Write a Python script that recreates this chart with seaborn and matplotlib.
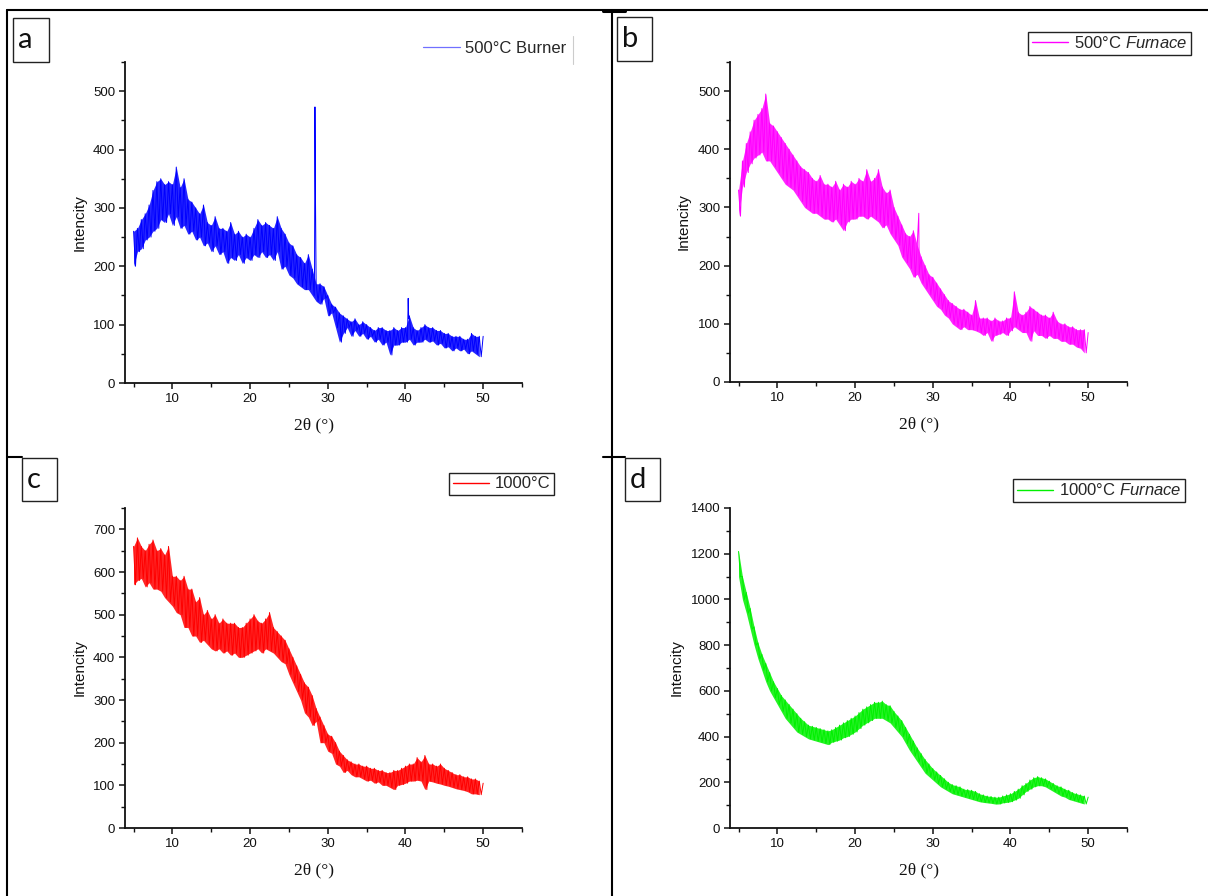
import numpy as np
import pandas as pd
import matplotlib
matplotlib.use("Agg")
import matplotlib.pyplot as plt
import seaborn as sns
from matplotlib.lines import Line2D
from matplotlib.patches import Rectangle

# ---------------- data ----------------
# sampling grid: upper edge of the noisy trace at 5.0, 5.5, ... 50.0,
# lower edge at 5.25, 5.75, ... 49.75
theta_hi = np.arange(5.0, 50.001, 0.5)
theta_lo = np.arange(5.25, 49.80, 0.5)

a_hi = [260, 265, 280, 290, 305, 330, 345, 350, 340, 345,
        340, 370, 335, 350, 315, 310, 300, 290, 305, 275,
        270, 285, 265, 265, 260, 275, 255, 260, 250, 255,
        250, 265, 280, 270, 275, 270, 265, 285, 265, 255,
        240, 235, 220, 215, 205, 220, 195, 170, 170, 165,
        150, 135, 130, 120, 115, 110, 105, 110, 100, 105,
        100, 95, 90, 95, 95, 90, 90, 95, 90, 95,
        95, 115, 95, 90, 95, 100, 95, 95, 90, 90,
        85, 85, 80, 80, 80, 75, 75, 85, 80, 80,
        80]
a_lo = [200, 225, 230, 245, 250, 260, 265, 280, 275, 290,
        270, 285, 265, 270, 255, 260, 245, 250, 235, 240,
        225, 235, 220, 225, 205, 215, 210, 220, 205, 215,
        210, 220, 215, 225, 215, 220, 210, 225, 195, 200,
        185, 180, 170, 165, 160, 160, 150, 140, 135, 145,
        115, 120, 95, 70, 85, 95, 80, 90, 80, 85,
        75, 80, 70, 75, 65, 70, 48, 65, 65, 70,
        70, 75, 65, 70, 70, 75, 70, 72, 65, 68,
        60, 62, 55, 60, 55, 58, 50, 55, 50, 45]
a_peak_theta = [28.30, 28.35, 28.40, 40.35, 40.42]
a_peak_int = [200, 473, 350, 145, 110]

b_hi = [330, 380, 410, 430, 450, 460, 470, 495, 445, 440,
        430, 420, 410, 400, 390, 380, 370, 365, 360, 350,
        345, 355, 340, 340, 335, 345, 330, 340, 335, 345,
        340, 350, 345, 365, 345, 350, 365, 335, 325, 330,
        300, 285, 270, 255, 250, 260, 235, 215, 200, 185,
        180, 170, 160, 150, 140, 135, 130, 125, 125, 120,
        115, 140, 110, 110, 110, 105, 110, 105, 105, 110,
        110, 155, 120, 115, 120, 130, 125, 120, 115, 115,
        110, 120, 105, 100, 100, 95, 95, 90, 90, 90,
        85]
b_lo = [285, 335, 360, 375, 385, 390, 395, 380, 380, 370,
        360, 350, 340, 335, 330, 320, 310, 300, 295, 290,
        290, 285, 280, 280, 275, 280, 270, 260, 275, 280,
        280, 285, 285, 280, 285, 280, 275, 265, 270, 255,
        245, 235, 215, 205, 195, 180, 185, 170, 160, 150,
        140, 130, 125, 115, 110, 100, 95, 90, 95, 90,
        90, 88, 85, 80, 85, 70, 80, 82, 85, 80,
        88, 95, 90, 85, 85, 70, 88, 80, 80, 75,
        80, 75, 75, 70, 70, 65, 65, 60, 58, 50]
b_peak_theta = [28.20]
b_peak_int = [290]

c_hi = [660, 680, 660, 650, 665, 675, 650, 655, 640, 660,
        590, 590, 580, 590, 560, 560, 530, 540, 500, 510,
        490, 500, 480, 490, 480, 480, 480, 470, 470, 480,
        490, 500, 485, 480, 490, 505, 470, 460, 450, 440,
        420, 400, 380, 360, 340, 330, 310, 280, 260, 240,
        220, 215, 200, 180, 170, 160, 155, 150, 150, 145,
        145, 140, 140, 135, 135, 130, 130, 135, 135, 140,
        145, 150, 150, 165, 155, 170, 150, 150, 145, 150,
        140, 135, 130, 125, 125, 120, 120, 115, 115, 110,
        105]
c_lo = [570, 580, 585, 565, 575, 560, 560, 555, 540, 530,
        520, 505, 500, 470, 470, 450, 450, 435, 440, 430,
        420, 415, 420, 410, 415, 405, 410, 400, 400, 405,
        410, 415, 420, 410, 420, 415, 410, 400, 390, 385,
        360, 340, 320, 300, 270, 260, 240, 250, 200, 200,
        180, 175, 150, 145, 130, 135, 125, 120, 120, 115,
        110, 112, 105, 108, 100, 100, 95, 90, 100, 102,
        105, 110, 110, 112, 110, 90, 110, 108, 105, 103,
        100, 98, 95, 92, 90, 88, 85, 80, 80, 78]
c_peak_theta = []
c_peak_int = []

d_hi = [1210, 1100, 1030, 960, 880, 810, 760, 720, 680, 640,
        610, 580, 560, 540, 520, 500, 480, 465, 450, 445,
        440, 435, 430, 425, 430, 440, 450, 460, 470, 480,
        490, 505, 520, 530, 540, 550, 550, 555, 540, 535,
        510, 490, 470, 440, 410, 380, 350, 325, 300, 280,
        260, 245, 230, 215, 200, 190, 185, 180, 170, 168,
        165, 160, 150, 145, 140, 138, 135, 135, 140, 145,
        150, 160, 170, 185, 195, 210, 220, 225, 220, 215,
        205, 195, 185, 180, 170, 165, 155, 150, 145, 140,
        135]
d_lo = [1100, 1000, 940, 870, 800, 740, 690, 640, 600, 570,
        540, 510, 480, 460, 440, 420, 410, 400, 390, 385,
        380, 375, 370, 365, 375, 380, 385, 395, 400, 410,
        420, 435, 450, 460, 470, 480, 480, 480, 470, 460,
        440, 420, 400, 370, 340, 315, 290, 265, 240, 225,
        210, 195, 180, 170, 160, 150, 145, 140, 135, 130,
        125, 120, 115, 112, 110, 108, 105, 105, 110, 112,
        115, 122, 130, 145, 160, 170, 180, 185, 185, 180,
        170, 160, 150, 140, 135, 125, 120, 115, 110, 105]
d_peak_theta = []
d_peak_int = []

legend_labels = ["500°C Burner", r"500°C $\mathit{Furnace}$",
                 "1000°C", r"1000°C $\mathit{Furnace}$"]
panel_letters = ["a", "b", "c", "d"]

# ---------------- style ----------------
sns.set_style("ticks")
plt.rcParams["font.family"] = ["Liberation Sans", "DejaVu Sans"]
plt.rcParams["mathtext.fontset"] = "custom"
plt.rcParams["mathtext.rm"] = "Liberation Sans"
plt.rcParams["mathtext.it"] = "Liberation Sans:italic"

W, H = 1208, 896
fig = plt.figure(figsize=(W / 100, H / 100), dpi=100)
fig.patch.set_facecolor("white")


def fx(px):
    return px / W


def fy(py):
    return 1 - py / H


def trace(hi, lo, pk_t, pk_i):
    t = np.concatenate([theta_hi, theta_lo, np.array(pk_t, dtype=float)])
    v = np.concatenate([np.array(hi, float), np.array(lo, float),
                        np.array(pk_i, dtype=float)])
    return pd.DataFrame({"theta": t, "I": v}).sort_values("theta")


def band(hi, lo):
    # each lower-edge reading is grouped with the upper-edge reading just before it
    t = np.concatenate([theta_hi, theta_lo - 0.25])
    v = np.concatenate([np.array(hi, float), np.array(lo, float)])
    return pd.DataFrame({"theta": t, "I": v})


panels = [
    dict(hi=a_hi, lo=a_lo, pt=a_peak_theta, pi=a_peak_int, color="#0000FF",
         box=(125, 62, 522, 383), ylim=550, major=100, minor=50,
         ylab_x=87, leg=None, letter_box=(13, 18, 49, 62)),
    dict(hi=b_hi, lo=b_lo, pt=b_peak_theta, pi=b_peak_int, color="#FF00FF",
         box=(730, 62, 1127, 382), ylim=550, major=100, minor=50,
         ylab_x=691, leg=(1191, 32), letter_box=(617, 17, 652, 61)),
    dict(hi=c_hi, lo=c_lo, pt=c_peak_theta, pi=c_peak_int, color="#FF0000",
         box=(125, 508, 522, 828), ylim=750, major=100, minor=50,
         ylab_x=87, leg=(554, 473), letter_box=(22, 458, 57, 501)),
    dict(hi=d_hi, lo=d_lo, pt=d_peak_theta, pi=d_peak_int, color="#00F000",
         box=(730, 508, 1127, 828), ylim=1400, major=200, minor=100,
         ylab_x=684, leg=(1185, 479), letter_box=(625, 458, 660, 501)),
]

for i, p in enumerate(panels):
    l, t, r, b = p["box"]
    ax = fig.add_axes([fx(l), fy(b), fx(r) - fx(l), fy(t) - fy(b)])
    ax.set_facecolor("none")
    # dense noise band (min..max of the readings in each 0.5° step)
    sns.lineplot(data=band(p["hi"], p["lo"]), x="theta", y="I", ax=ax,
                 color=p["color"], linewidth=0, estimator="mean",
                 errorbar=("pi", 100), err_kws=dict(alpha=0.85, linewidth=0),
                 legend=False)
    # jagged trace
    sns.lineplot(data=trace(p["hi"], p["lo"], p["pt"], p["pi"]), x="theta", y="I",
                 ax=ax, color=p["color"], linewidth=0.7, estimator=None, legend=False)
    ax.set_xlim(3.9, 55)
    ax.set_ylim(0, p["ylim"])
    ax.set_xticks([10, 20, 30, 40, 50])
    ax.set_xticks([5, 15, 25, 35, 45, 55], minor=True)
    ax.set_yticks(np.arange(0, p["ylim"] + 1, p["major"]))
    ax.set_yticks(np.arange(p["minor"], p["ylim"] + 1, p["major"]), minor=True)
    for s in ["top", "right"]:
        ax.spines[s].set_visible(False)
    for s in ["left", "bottom"]:
        ax.spines[s].set_linewidth(1.3)
        ax.spines[s].set_color("#111111")
    ax.tick_params(which="major", direction="out", length=4.5, width=1.1,
                   labelsize=9.5, colors="#111111", pad=2.5)
    ax.tick_params(which="minor", direction="out", length=2.8, width=1.0,
                   colors="#111111")
    ax.set_xlabel("2θ (°)", family=["Liberation Serif", "DejaVu Serif"],
                  fontsize=12.5, color="#111111")
    ax.set_ylabel("Intencity", fontsize=11, color="#111111")
    ax.yaxis.set_label_coords((p["ylab_x"] - l) / (r - l), 0.5)
    ax.xaxis.set_label_coords((314 - 125) / 397, -34 / (b - t))

    if p["leg"] is None:
        handle = Line2D([], [], color="#7070FF", linewidth=0.9)
        ax.legend([handle], [legend_labels[i]], loc="upper right",
                  bbox_to_anchor=(fx(570), fy(38)), bbox_transform=fig.transFigure,
                  frameon=False, fontsize=12, handlelength=2.2,
                  handletextpad=0.35, borderpad=0.2, borderaxespad=0)
        fig.add_artist(Line2D([fx(573), fx(573)], [fy(36), fy(64)],
                              color="#cccccc", lw=0.8))
    else:
        handle = Line2D([], [], color=p["color"], linewidth=1.0)
        lg = ax.legend([handle], [legend_labels[i]], loc="upper right",
                       bbox_to_anchor=(fx(p["leg"][0]), fy(p["leg"][1])),
                       bbox_transform=fig.transFigure, frameon=True, fancybox=False,
                       edgecolor="#222222", framealpha=1, fontsize=12,
                       handlelength=2.2, handletextpad=0.35, borderpad=0.2,
                       borderaxespad=0)
        lg.get_frame().set_linewidth(1.0)

    # panel letter box
    x0, y0, x1, y1 = p["letter_box"]
    fig.add_artist(Rectangle((fx(x0), fy(y1)), fx(x1) - fx(x0), fy(y0) - fy(y1),
                             transform=fig.transFigure, fill=False,
                             edgecolor="#222222", lw=1.0))
    fig.text(fx(x0 + 5), fy((y0 + y1) / 2), panel_letters[i], ha="left", va="center",
             fontsize=21, family=["Lato", "DejaVu Sans"], color="#111111")


# frame lines of the composite
def fline(x0, y0, x1, y1, lw=1.5):
    fig.add_artist(Line2D([fx(x0), fx(x1)], [fy(y0), fy(y1)], color="black", lw=lw))


fline(7, 10, 1208, 10)
fline(7, 10, 7, 896)
fline(612, 10, 612, 896)
fline(603, 11, 625, 11, lw=2.2)
fline(603, 457, 625, 457)
fline(7, 457, 22, 457)

fig.savefig("out.png", dpi=100, facecolor="white")
